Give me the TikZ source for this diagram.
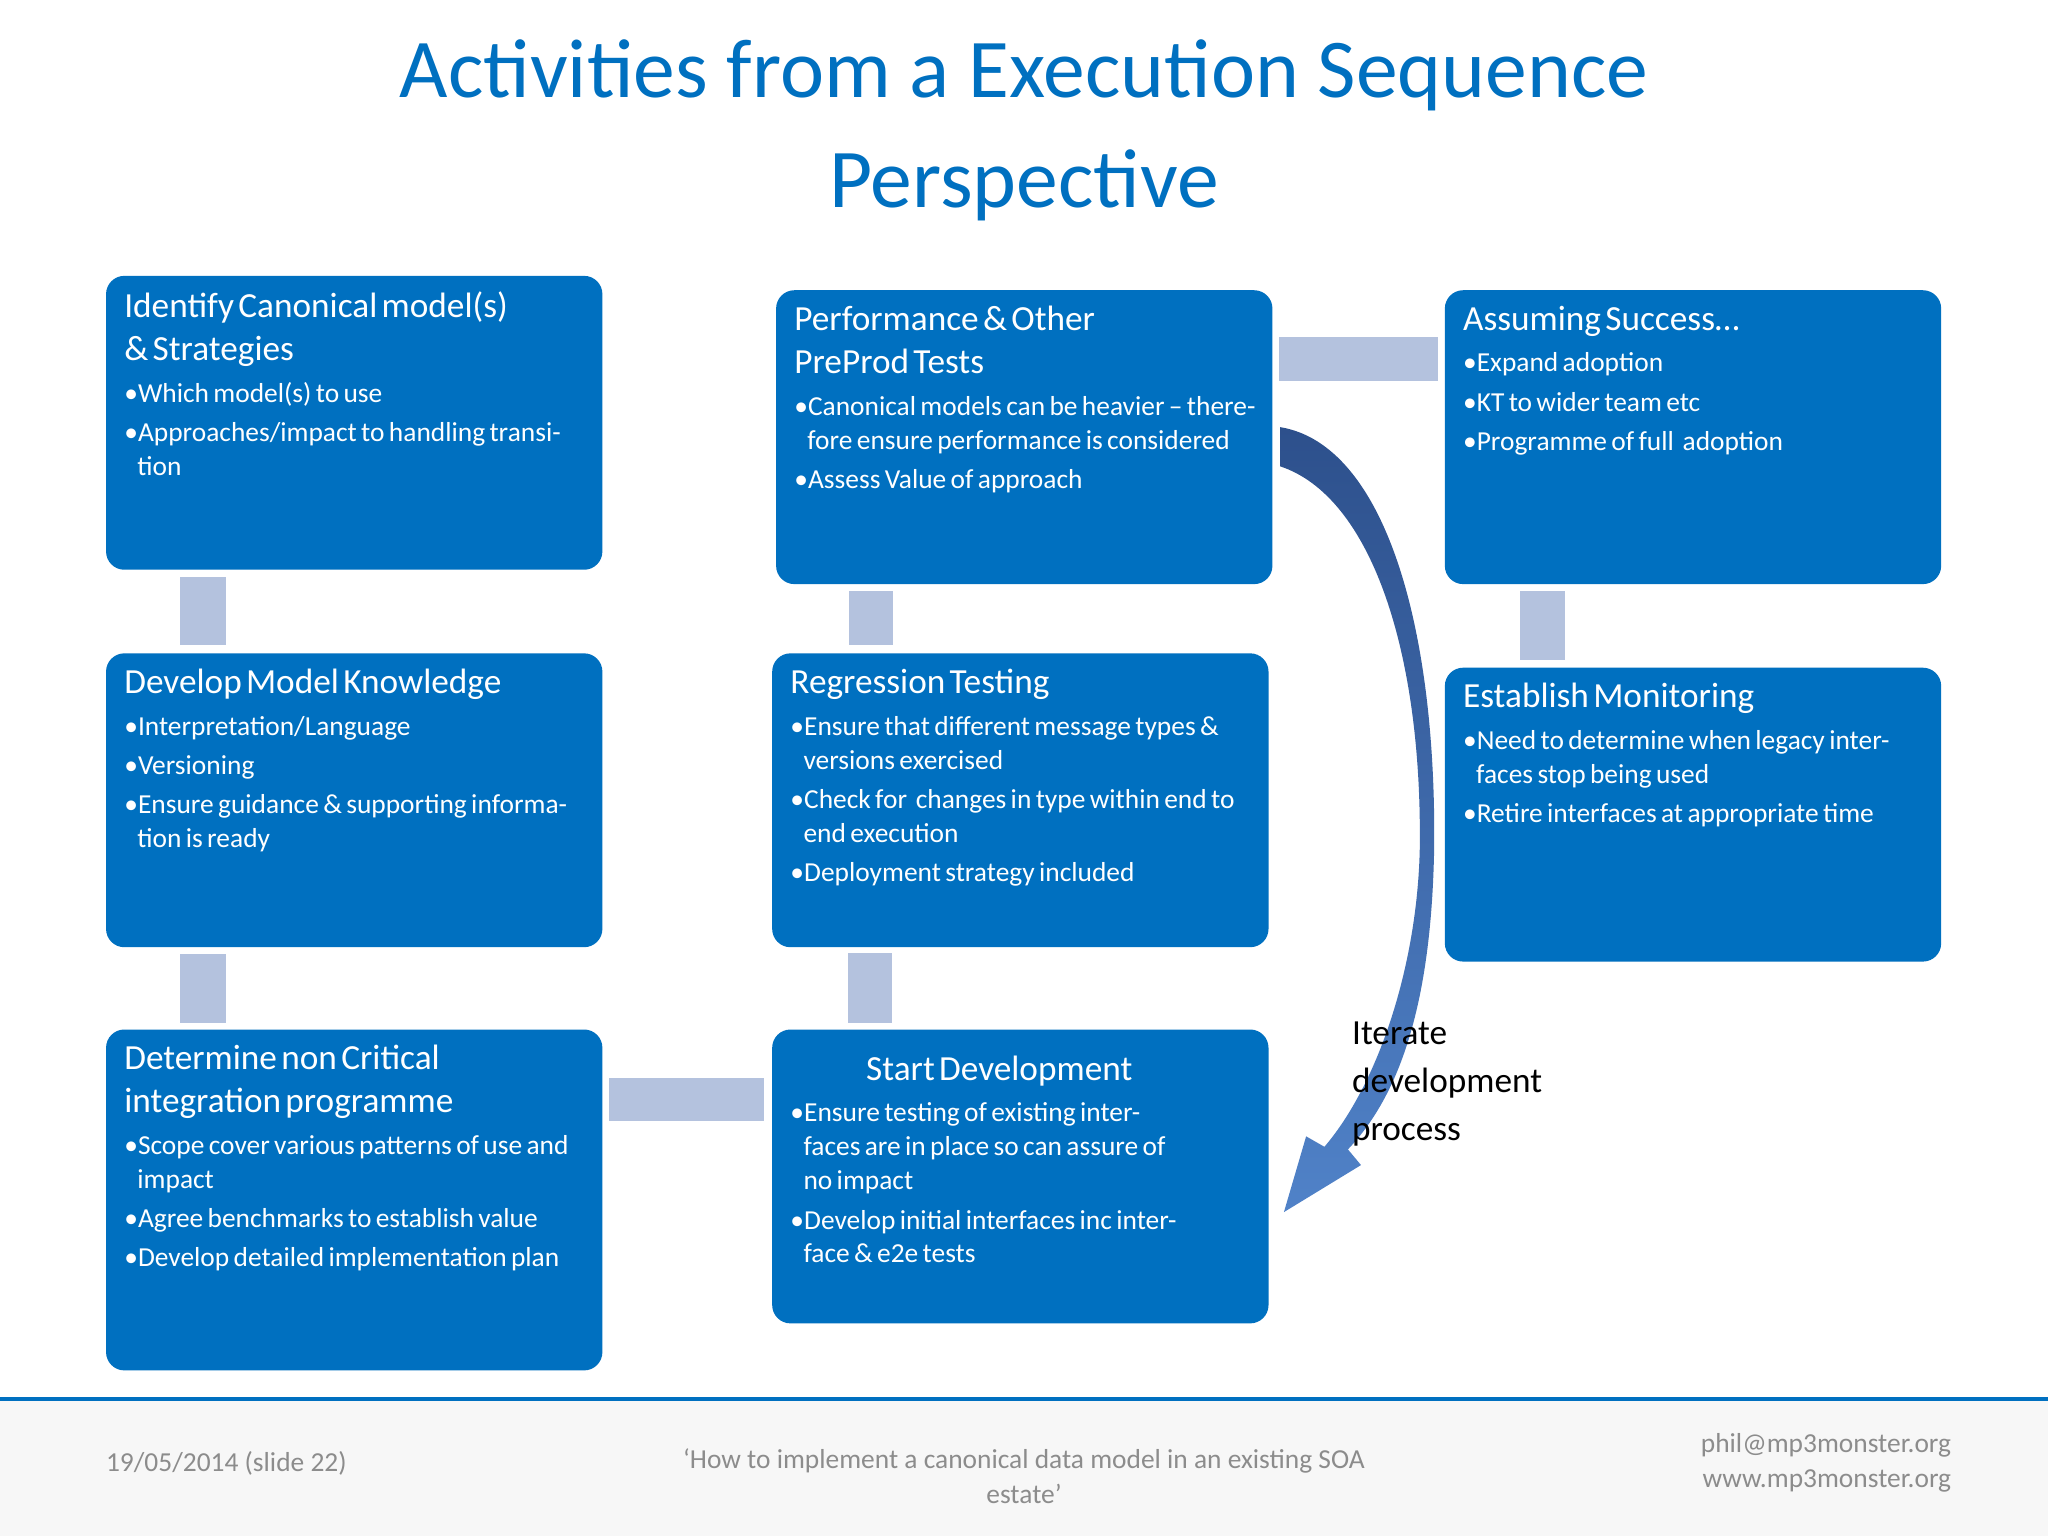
\documentclass[tikz,border=0pt]{standalone}
\usepackage{fontspec}
\setmainfont{Carlito}
\usetikzlibrary{calc}
\definecolor{boxblue}{RGB}{0,112,192}
\definecolor{conn}{RGB}{180,194,222}
\definecolor{titleblue}{RGB}{0,112,192}
\definecolor{foot}{RGB}{140,140,140}
\newcommand\hd[1]{{\fontsize{27}{33}\selectfont #1\par}\vspace{6pt}}
\newcommand\bl[1]{{\fontsize{21}{26}\selectfont\hangindent=10pt\hangafter=1 •#1\par}\vspace{4pt}}
\tikzset{
 box/.style={fill=boxblue,rounded corners=14pt,minimum width=380pt,anchor=north west,inner sep=0pt},
 txt/.style={text=white,anchor=north west,text width=360pt,align=left,inner sep=0pt},
 cn/.style={fill=conn}
}
\begin{document}
\begin{tikzpicture}[x=1pt,y=-1pt]
\useasboundingbox (0,0) rectangle (1568,1176);
\fill[white] (0,0) rectangle (1568,1176);
\fill[black!3] (0,1073) rectangle (1568,1176);
\node[text=titleblue,font=\fontsize{64}{84}\selectfont,align=center] (title) at (784,100) {Activities from a Execution Sequence\\Perspective};
% boxes
\node[box,minimum height=225pt] (b1) at (81,211) {};
\node[box,minimum height=225pt] (b2) at (81,500) {};
\node[box,minimum height=261pt] (b3) at (81,788) {};
\node[box,minimum height=225pt] (b4) at (594,222) {};
\node[box,minimum height=225pt] (b5) at (591,500) {};
\node[box,minimum height=225pt] (b6) at (591,788) {};
\node[box,minimum height=225pt] (b7) at (1106,222) {};
\node[box,minimum height=225pt] (b8) at (1106,511) {};
% texts
\node[txt] (t1) at ($(b1.north west)+(14,12)$) {\hd{Identify Canonical model(s)\\\& Strategies}\bl{Which model(s) to use}\bl{Approaches/impact to handling transition}};
\node[txt] (t2) at ($(b2.north west)+(14,12)$) {\hd{Develop Model Knowledge}\bl{Interpretation/Language}\bl{Versioning}\bl{Ensure guidance \& supporting information is ready}};
\node[txt] (t3) at ($(b3.north west)+(14,12)$) {\hd{Determine non Critical\\integration programme}\bl{Scope cover various patterns of use and impact}\bl{Agree benchmarks to establish value}\bl{Develop detailed implementation plan}};
\node[txt,text width=355pt] (t4) at ($(b4.north west)+(14,12)$) {\hd{Performance \& Other\\PreProd Tests}\bl{Canonical models can be heavier -- therefore ensure performance is considered}\bl{Assess Value of approach}};
\node[txt] (t5) at ($(b5.north west)+(14,12)$) {\hd{Regression Testing}\bl{Ensure that different message types \& versions exercised}\bl{Check for\ \ changes in type within end to end execution}\bl{Deployment strategy included}};
\node[txt,text width=300pt] (t6) at ($(b6.north west)+(14,20)$) {\hd{\hspace*{58pt}Start Development}\bl{Ensure testing of existing interfaces are in place so can assure of no impact}\bl{Develop initial interfaces inc interface \& e2e tests}};
\node[txt] (t7) at ($(b7.north west)+(14,12)$) {\hd{Assuming Success…}\bl{Expand adoption}\bl{KT to wider team etc}\bl{Programme of full\ \ adoption}};
\node[txt] (t8) at ($(b8.north west)+(14,12)$) {\hd{Establish Monitoring}\bl{Need to determine when legacy interfaces stop being used}\bl{Retire interfaces at appropriate time}};
% connectors
\fill[cn] ($(b1.south west)+(57,5)$) rectangle ($(b2.north west)+(92,-6)$);
\fill[cn] ($(b2.south west)+(57,5)$) rectangle ($(b3.north west)+(92,-5)$);
\fill[cn] ($(b3.north east)+(5,37)$) rectangle ($(b6.north west)+(-6,70)$);
\fill[cn] ($(b6.north west)+(58,-58)$) rectangle ($(b6.north west)+(92,-5)$);
\fill[cn] ($(b4.south west)+(56,5)$) rectangle ($(b5.north west)+(93,-6)$);
\fill[cn] ($(b4.north east)+(5,36)$) rectangle ($(b7.north west)+(-5,70)$);
\fill[cn] ($(b7.south west)+(58,5)$) rectangle ($(b8.north west)+(92,-6)$);
% curved arrow
\shade[top color={rgb,255:red,45;green,80;blue,140},bottom color={rgb,255:red,80;green,130;blue,200}]
 (980,327) .. controls (1060,340) and (1100,480) .. (1098,650)
 .. controls (1096,760) and (1075,835) .. (1032,880)
 -- (1042,892) -- (983,928) -- (1000,870) -- (1014,878)
 .. controls (1055,830) and (1085,740) .. (1087,650)
 .. controls (1089,500) and (1050,380) .. (980,357) -- cycle;
\node[anchor=north west,align=left,font=\fontsize{27}{37}\selectfont,inner sep=0pt] (it) at (1035,782) {Iterate\\development\\process};
% footer
\draw[boxblue,line width=3pt] (0,1071) -- (1568,1071);
\node[anchor=west,text=foot,font=\fontsize{21}{27}\selectfont,inner sep=0pt] (f1) at (81,1120) {19/05/2014 (slide 22)};
\node[align=center,text=foot,font=\fontsize{21}{27}\selectfont,inner sep=0pt] (f2) at (784,1130) {‘How to implement a canonical data model in an existing SOA\\estate’};
\node[anchor=east,align=right,text=foot,font=\fontsize{21}{27}\selectfont,inner sep=0pt] (f3) at (1494,1120) {phil@mp3monster.org\\www.mp3monster.org};
\end{tikzpicture}
\end{document}
